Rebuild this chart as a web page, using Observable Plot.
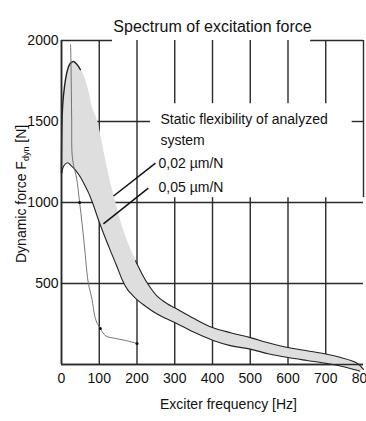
<!DOCTYPE html>
<html><head><meta charset="utf-8">
<script src="https://cdn.jsdelivr.net/npm/d3@7"></script>
<script src="https://cdn.jsdelivr.net/npm/@observablehq/plot@0.6"></script>
<style>
html,body{margin:0;padding:0;background:#fff;overflow:hidden;}
</style></head><body><div id="chart"></div>
<script>
const title = "Spectrum of excitation force";
const xLabel = "Exciter frequency [Hz]";
const yLabelMain = "Dynamic force F";
const yLabelSub = "dyn";
const yLabelUnit = " [N]";

const freqTicks = [0, 100, 200, 300, 400, 500, 600, 700, 800];
const forceTicks = [500, 1000, 1500, 2000];

// 0,02 µm/N curve (upper edge of band)
const upperHz = [0, 1, 3, 8, 15, 22, 31, 40, 50, 58, 70, 80, 95, 110, 127, 143, 162, 185, 196, 212, 228, 254, 280, 300, 350, 400, 450, 500, 550, 600, 650, 700, 740, 780, 800];
const upperF  = [1180, 1450, 1594, 1717, 1810, 1855, 1870, 1855, 1820, 1790, 1700, 1594, 1500, 1330, 1145, 1000, 840, 700, 640, 565, 500, 420, 375, 350, 285, 228, 195, 166, 133, 105, 85, 65, 43, 12, -30];

// 0,05 µm/N curve (lower edge of band)
const lowerHz = [0, 6, 16, 24, 37, 50, 64, 72, 82, 98, 114, 130, 146, 162, 175, 188, 200, 225, 250, 275, 300, 350, 400, 450, 500, 550, 600, 650, 700, 750, 790];
const lowerF  = [1175, 1225, 1245, 1231, 1200, 1157, 1095, 1058, 1000, 892, 793, 700, 610, 517, 462, 428, 400, 355, 316, 285, 260, 200, 150, 115, 95, 65, 43, 25, 8, -15, -40];

// thin measured curve
const measHz = [24, 25, 26, 27, 28, 32, 40, 48, 55, 62, 69, 73, 81, 88, 95, 100, 103, 110, 118, 140, 170, 200];
const measF  = [1975, 1880, 1700, 1500, 1300, 1230, 1150, 1000, 860, 700, 535, 480, 400, 300, 252, 235, 222, 195, 175, 162, 148, 130];
const markHz = [48, 103, 200];
const markF  = [1000, 222, 130];

// grid segments (data units)
const vGridX  = [100, 200, 300, 300, 400, 400, 500, 500, 600, 600, 700, 700, 800, 0];
const vGridY1 = [0, 0, 0, 1610, 0, 1610, 0, 1610, 0, 1610, 0, 1610, 1030, 0];
const vGridY2 = [2000, 2000, 1030, 2000, 1030, 2000, 1030, 2000, 1030, 2000, 1030, 2000, 2000, 2000];
const hGridY  = [0, 500, 1000, 1500, 1500, 2000, 2000];
const hGridX1 = [0, 0, 0, 85, 770, 0, 660];
const hGridX2 = [800, 800, 800, 236, 800, 135, 800];

// annotations
const annotText = ["Static flexibility of analyzed", "system", "0,02 µm/N", "0,05 µm/N"];
const annotHz = [262, 262, 257, 257];
const annotF  = [1510, 1382, 1240, 1092];
const leadX1 = [138, 111], leadY1 = [1040, 868], leadX2 = [249, 230], leadY2 = [1243, 1089];

const pts = (xs, ys) => xs.map((x, i) => ({x, y: ys[i]}));
const upper = pts(upperHz, upperF);
const lower = pts(lowerHz, lowerF);
const band = upper.concat(lower.slice().reverse());
const meas = pts(measHz, measF);
const marks = pts(markHz, markF);
const vGrid = vGridX.map((x, i) => ({x, y1: vGridY1[i], y2: vGridY2[i]}));
const hGrid = hGridY.map((y, i) => ({y, x1: hGridX1[i], x2: hGridX2[i]}));
const annots = annotText.map((t, i) => ({t, x: annotHz[i], y: annotF[i]}));
const leads = leadX1.map((x, i) => ({x1: x, y1: leadY1[i], x2: leadX2[i], y2: leadY2[i]}));

const font = "'Liberation Sans', Arial, Helvetica, sans-serif";

const chart = Plot.plot({
  width: 366, height: 421,
  marginTop: 40, marginRight: 3, marginBottom: 57, marginLeft: 61,
  style: {fontFamily: font, background: "#fff", color: "#000", overflow: "visible"},
  x: {domain: [0, 800], axis: null},
  y: {domain: [0, 2000], axis: null},
  marks: [
    Plot.ruleX(vGrid, {x: "x", y1: "y1", y2: "y2", stroke: "#2a2a2a", strokeWidth: 1.4}),
    Plot.ruleY(hGrid, {y: "y", x1: "x1", x2: "x2", stroke: "#2a2a2a", strokeWidth: 1.4}),
    Plot.line(band, {x: "x", y: "y", fill: "#dedede", stroke: "none", curve: "catmull-rom"}),
    Plot.line(lower, {x: "x", y: "y", stroke: "#222", strokeWidth: 1.1, curve: "catmull-rom"}),
    Plot.line(upper.filter(d => d.x <= 50), {x: "x", y: "y", stroke: "#222", strokeWidth: 1.4, curve: "catmull-rom"}),
    Plot.line(upper.filter(d => d.x >= 196), {x: "x", y: "y", stroke: "#222", strokeWidth: 1.1, curve: "catmull-rom"}),
    Plot.line(meas, {x: "x", y: "y", stroke: "#666", strokeWidth: 0.9, curve: "catmull-rom"}),
    Plot.dot(marks, {x: "x", y: "y", r: 1.5, fill: "#111"}),
    Plot.ruleY([0], {x1: 0, x2: 800, stroke: "#2a2a2a", strokeWidth: 1.6}),
    Plot.ruleX([0], {y1: 0, y2: 2000, stroke: "#2a2a2a", strokeWidth: 1.6}),
    Plot.link(leads, {x1: "x1", y1: "y1", x2: "x2", y2: "y2", stroke: "#111", strokeWidth: 1.5}),
    Plot.text(annots, {x: "x", y: "y", text: "t", textAnchor: "start", fontSize: 14, fill: "#111"}),
    Plot.text(freqTicks, {x: d => d, y: 0, text: d => String(d), dy: 14, fontSize: 14, fill: "#111"}),
    Plot.text(forceTicks, {x: 0, y: d => d, text: d => String(d), textAnchor: "end", dx: -3, fontSize: 14, fill: "#111"}),
    Plot.text([title], {frameAnchor: "top", text: d => d, dy: -20, fontSize: 16, fill: "#111"}),
    Plot.text([xLabel], {frameAnchor: "bottom", text: d => d, dx: 16, dy: 44, fontSize: 14, fill: "#111"})
  ]
});

const svg = d3.select(chart);
const yl = svg.append("text")
  .attr("transform", "translate(26,263) rotate(-90)")
  .attr("text-anchor", "start")
  .attr("font-size", 14).attr("font-family", font).attr("fill", "#111");
yl.append("tspan").text(yLabelMain);
yl.append("tspan").attr("font-size", 9).attr("dy", 3).text(yLabelSub);
yl.append("tspan").attr("dy", -3).text(yLabelUnit);

document.getElementById("chart").appendChild(chart);
</script></body></html>
